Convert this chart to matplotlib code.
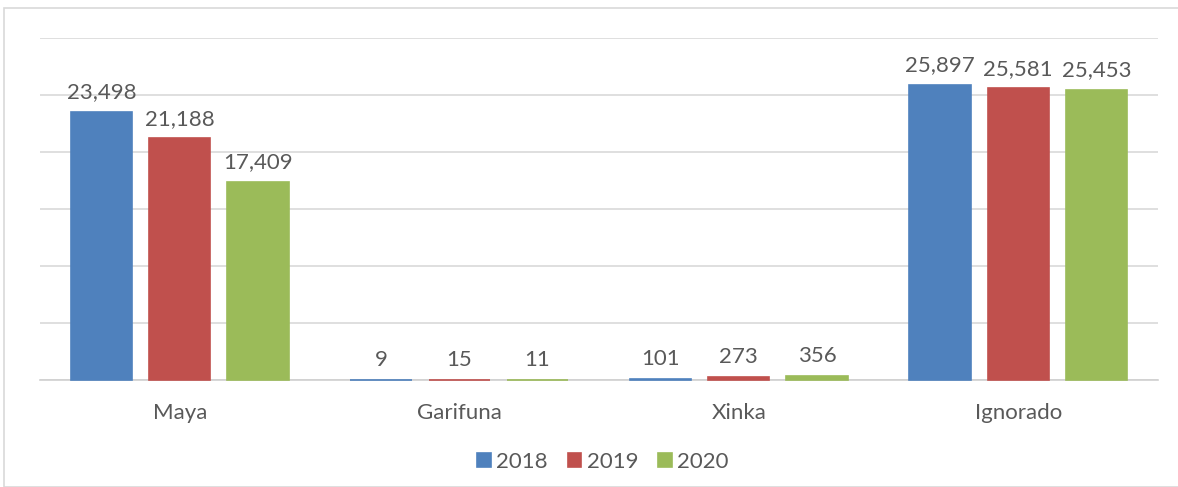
import matplotlib.pyplot as plt
from matplotlib.patches import Rectangle
import numpy as np

categories = ['Maya', 'Garifuna', 'Xinka', 'Ignorado']
years = ['2018', '2019', '2020']
v2018 = [23498, 9, 101, 25897]
v2019 = [21188, 15, 273, 25581]
v2020 = [17409, 11, 356, 25453]
series = [v2018, v2019, v2020]
colors = ['#4F81BD', '#C0504D', '#9BBB59']

plt.rcParams['font.family'] = ['Lato', 'DejaVu Sans']
TEXT = '#595959'

fig = plt.figure(figsize=(11.78, 4.87), dpi=100)
ax = fig.add_axes([40 / 1178, 107 / 487, 1118 / 1178, 342 / 487])

# chart border
fig.patches.append(Rectangle((4 / 1178, 0), 1.2, (487 - 8) / 487,
                             transform=fig.transFigure, fill=False,
                             edgecolor='#d9d9d9', linewidth=1.2))

x = np.arange(len(categories))
width = 0.22
step = 0.28
for i, (vals, col, yr) in enumerate(zip(series, colors, years)):
    pos = x + (i - 1) * step
    bars = ax.bar(pos, vals, width, color=col, edgecolor=col, linewidth=1.2,
                  label=yr, zorder=3, clip_on=False)
    for b, v in zip(bars, vals):
        ax.annotate(f'{v:,}', (b.get_x() + b.get_width() / 2, v),
                    xytext=(0, 7), textcoords='offset points',
                    ha='center', va='bottom', fontsize=16, color=TEXT)

ax.set_ylim(0, 30000)
ax.set_xlim(-0.5, 3.5)
ax.set_yticks(np.arange(0, 30001, 5000))
ax.yaxis.grid(True, color='#d9d9d9', linewidth=1.2)
ax.set_axisbelow(True)
ax.tick_params(axis='y', left=False, labelleft=False)
ax.tick_params(axis='x', bottom=False, pad=13)
ax.set_xticks(x)
ax.set_xticklabels(categories, fontsize=16, color=TEXT)
for s in ['top', 'right', 'left']:
    ax.spines[s].set_visible(False)
ax.spines['bottom'].set_color('#d0d0d0')
ax.spines['bottom'].set_linewidth(1.2)
ax.spines['bottom'].set_zorder(2)

fig.legend(loc='center', bbox_to_anchor=(0.512, 25 / 487), ncol=3, frameon=False,
           fontsize=16, handlelength=0.6, handleheight=0.6,
           handletextpad=0.25, columnspacing=0.9, labelcolor=TEXT)

fig.savefig('out.png', dpi=100)
